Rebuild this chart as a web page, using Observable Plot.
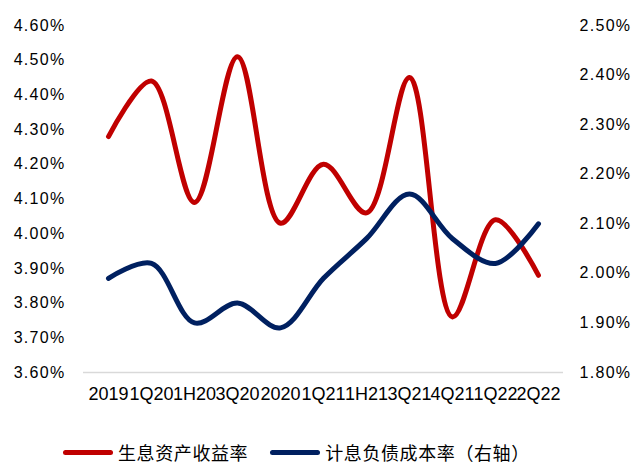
<!DOCTYPE html>
<html><head><meta charset="utf-8">
<script src="https://cdn.jsdelivr.net/npm/d3@7"></script>
<script src="https://cdn.jsdelivr.net/npm/@observablehq/plot@0.6"></script>
<style>
body{margin:0;background:#fff;width:637px;height:465px;position:relative;overflow:hidden;font-family:"Liberation Sans",Arial,sans-serif}
#chart{position:absolute;left:0;top:0}
#chart svg g[aria-label="y-axis tick label"] text{letter-spacing:1.3px}
#legend{position:absolute;left:63px;top:440px;height:24px;display:flex;align-items:center;font-family:"Noto Sans CJK SC",sans-serif;font-size:18px;line-height:22px;letter-spacing:0.6px;color:#000}
.sw{width:50px;height:5px;border-radius:3px;margin-right:5px}
.item{display:flex;align-items:center;margin-right:22px}
</style></head><body><div id="chart"></div><div id="legend"></div>
<script>
const categories = ["2019","1Q20","1H20","3Q20","2020","1Q21","1H21","3Q21","4Q21","1Q22","2Q22"];
const assetYield = [4.28,4.44,4.09,4.51,4.03,4.20,4.06,4.45,3.76,4.04,3.88];
const liabilityCost = [1.99,2.02,1.90,1.94,1.89,1.99,2.07,2.16,2.07,2.02,2.10];
const leftTicks = [3.6,3.7,3.8,3.9,4.0,4.1,4.2,4.3,4.4,4.5,4.6];
const rightTicks = [1.8,1.9,2.0,2.1,2.2,2.3,2.4,2.5];
const seriesNames = ["生息资产收益率","计息负债成本率（右轴）"];
const seriesColors = ["#C00000","#002060"];

const leftDomain = [3.6, 4.6];
const rightDomain = [1.8, 2.5];
const toLeft = v => leftDomain[0] + (v - rightDomain[0]) / (rightDomain[1] - rightDomain[0]) * (leftDomain[1] - leftDomain[0]);
const fromLeft = v => rightDomain[0] + (v - leftDomain[0]) / (leftDomain[1] - leftDomain[0]) * (rightDomain[1] - rightDomain[0]);

const redData = categories.map((c, i) => ({c, v: assetYield[i]}));
const blueData = categories.map((c, i) => ({c, v: toLeft(liabilityCost[i])}));

const chart = Plot.plot({
  width: 637, height: 410,
  marginTop: 25, marginBottom: 38, marginLeft: 83, marginRight: 74,
  style: {fontFamily: '"Liberation Sans", Arial, sans-serif', fontSize: "16px", color: "#000", background: "#fff"},
  x: {type: "point", domain: categories, padding: 0.5, axis: null},
  y: {domain: leftDomain, axis: null},
  marks: [
    Plot.ruleY([leftDomain[0]], {stroke: "#d9d9d9", strokeWidth: 1.5}),
    Plot.axisY({anchor: "left", label: null, ticks: leftTicks, tickSize: 0, tickPadding: 18, fontSize: 16, tickFormat: d => d.toFixed(2) + "%"}),
    Plot.axisY({anchor: "right", label: null, ticks: rightTicks.map(toLeft), tickSize: 0, tickPadding: 16, fontSize: 16, tickFormat: d => fromLeft(d).toFixed(2) + "%"}),
    Plot.axisX({anchor: "bottom", label: null, ticks: categories, tickSize: 0, tickPadding: 15, fontSize: 18}),
    Plot.line(redData, {x: "c", y: "v", stroke: seriesColors[0], strokeWidth: 5, curve: "catmull-rom"}),
    Plot.line(blueData, {x: "c", y: "v", stroke: seriesColors[1], strokeWidth: 5, curve: "catmull-rom"})
  ]
});
document.getElementById("chart").appendChild(chart);

const legend = document.getElementById("legend");
seriesNames.forEach((name, i) => {
  const item = document.createElement("div");
  item.className = "item";
  const sw = document.createElement("div");
  sw.className = "sw";
  sw.style.background = seriesColors[i];
  const t = document.createElement("span");
  t.textContent = name;
  item.appendChild(sw); item.appendChild(t);
  legend.appendChild(item);
});
</script></body></html>
